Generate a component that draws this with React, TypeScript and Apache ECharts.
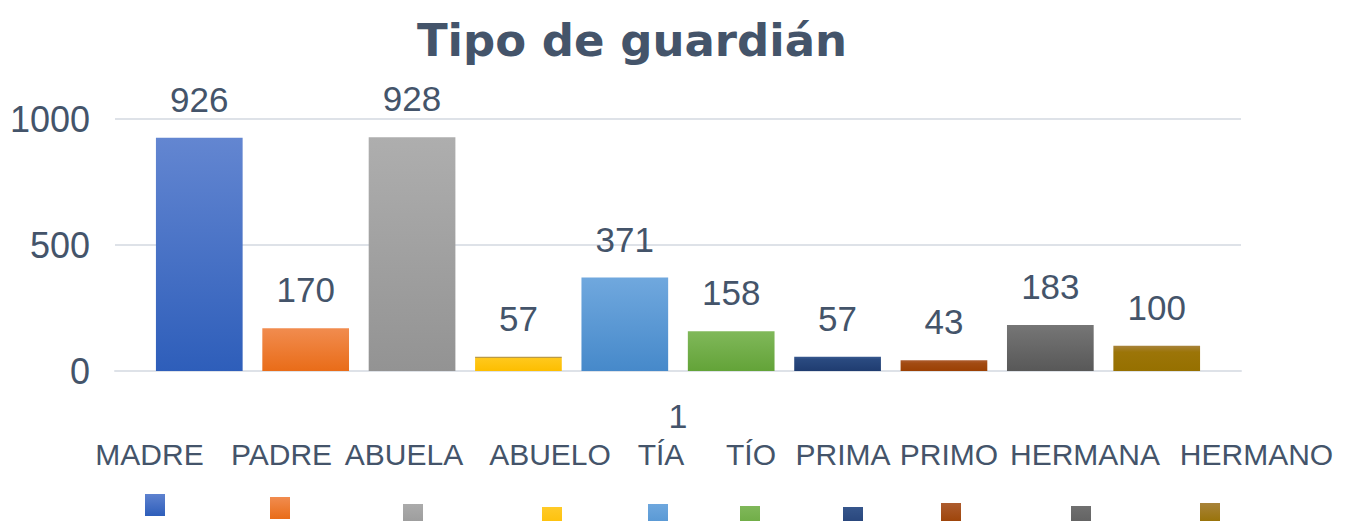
import React, { useEffect, useRef } from "react";
import * as echarts from "echarts";

// ---- data ----
const categories = ["MADRE", "PADRE", "ABUELA", "ABUELO", "TÍA", "TÍO", "PRIMA", "PRIMO", "HERMANA", "HERMANO"];
const values = [926, 170, 928, 57, 371, 158, 57, 43, 183, 100];
const xCategories = ["1"];
const yMin = 0;
const yMax = 1000;
const yInterval = 500;
const titleText = "Tipo de guardián";

// ---- styles / layout ----
const gradients: [number, string][][] = [
  [[0, "#6386D1"], [1, "#2E5EBA"]],
  [[0, "#F18C4F"], [1, "#E96C18"]],
  [[0, "#AEAEAE"], [1, "#939393"]],
  [[0, "#BA9A45"], [0.09, "#BA9A45"], [0.13, "#FFC81C"], [1, "#FDBE00"]],
  [[0, "#70A8DE"], [1, "#4689CA"]],
  [[0, "#80B85A"], [1, "#63A338"]],
  [[0, "#3A5A90"], [0.2, "#2A4A80"], [1, "#1F3C70"]],
  [[0, "#AD5C2E"], [0.3, "#A24B12"], [1, "#9B4003"]],
  [[0, "#767676"], [1, "#585858"]],
  [[0, "#A8833A"], [0.25, "#9C7508"], [1, "#967000"]],
];
const swatchGradients: [number, string][][] = [
  [[0, "#5E82CF"], [1, "#2E5EBA"]],
  [[0, "#F18C4F"], [1, "#E96C18"]],
  [[0, "#ABABAB"], [1, "#9A9A9A"]],
  [[0, "#FFCA28"], [1, "#FDBE00"]],
  [[0, "#6EA7DE"], [1, "#5596D3"]],
  [[0, "#80B85A"], [1, "#6AA940"]],
  [[0, "#36568C"], [1, "#233F75"]],
  [[0, "#AD5C2E"], [1, "#9B4003"]],
  [[0, "#707070"], [1, "#5E5E5E"]],
  [[0, "#A8833A"], [1, "#967000"]],
];
const legendTextCenterX = [149.5, 281.5, 404, 550, 661, 751, 843, 949, 1085, 1256.5];
const legendTextY = 454;
const swatchX = [145, 270, 403, 542, 648, 740, 843, 941, 1071, 1200];
const swatchY = [494, 497, 504, 507, 504, 506, 507, 503, 506, 503];
const swatchW = 20;
const swatchH = 22;
const textColor = "#44546A";
const gridColor = "#DEE2E8";
const fontFamily = "'Liberation Sans', Arial, sans-serif";

function grad(stops: [number, string][]) {
  return new echarts.graphic.LinearGradient(
    0, 0, 0, 1,
    stops.map(([offset, color]) => ({ offset, color }))
  );
}

export default function App() {
  const ref = useRef<HTMLDivElement>(null);

  useEffect(() => {
    document.body.style.margin = "0";
    if (!ref.current) return;
    const chart = echarts.init(ref.current, null, { renderer: "svg" });

    const series = categories.map((name, i) => ({
      name,
      type: "bar",
      data: [values[i]],
      barWidth: 86.7,
      barGap: "22.7%",
      itemStyle: { color: grad(gradients[i]) },
      label: {
        show: true,
        position: "top",
        distance: 21,
        fontSize: 35,
        fontFamily,
        color: textColor,
      },
    }));

    const legendGraphics: any[] = [];
    categories.forEach((name, i) => {
      legendGraphics.push({
        type: "text",
        x: legendTextCenterX[i],
        y: legendTextY,
        style: {
          text: name,
          fontSize: 30,
          fontFamily,
          fill: textColor,
          align: "center",
          verticalAlign: "middle",
        },
      });
      legendGraphics.push({
        type: "rect",
        shape: { x: swatchX[i], y: swatchY[i], width: swatchW, height: swatchH },
        style: { fill: grad(swatchGradients[i]) },
      });
    });

    chart.setOption({
      animation: false,
      title: {
        text: titleText,
        left: 627,
        textAlign: "center",
        top: 12,
        textStyle: {
          fontSize: 45,
          lineHeight: 46,
          fontWeight: "bold",
          fontFamily: "'DejaVu Sans', Verdana, sans-serif",
          color: textColor,
        },
      },
      grid: { left: 115, right: 108, top: 119, bottom: 150, containLabel: false },
      xAxis: {
        type: "category",
        data: xCategories,
        axisLine: { show: true, lineStyle: { color: gridColor, width: 2 } },
        axisTick: { show: false },
        axisLabel: { fontSize: 34, fontFamily, color: textColor, margin: 28 },
      },
      yAxis: {
        type: "value",
        min: yMin,
        max: yMax,
        interval: yInterval,
        axisLine: { show: false },
        axisTick: { show: false },
        splitLine: { lineStyle: { color: gridColor, width: 2 } },
        axisLabel: {
          fontSize: 36,
          fontFamily,
          color: textColor,
          margin: 25,
          formatter: (v: number) => String(v),
        },
      },
      series,
      graphic: legendGraphics,
    });

    return () => chart.dispose();
  }, []);

  return <div ref={ref} style={{ width: 1349, height: 521 }} />;
}
